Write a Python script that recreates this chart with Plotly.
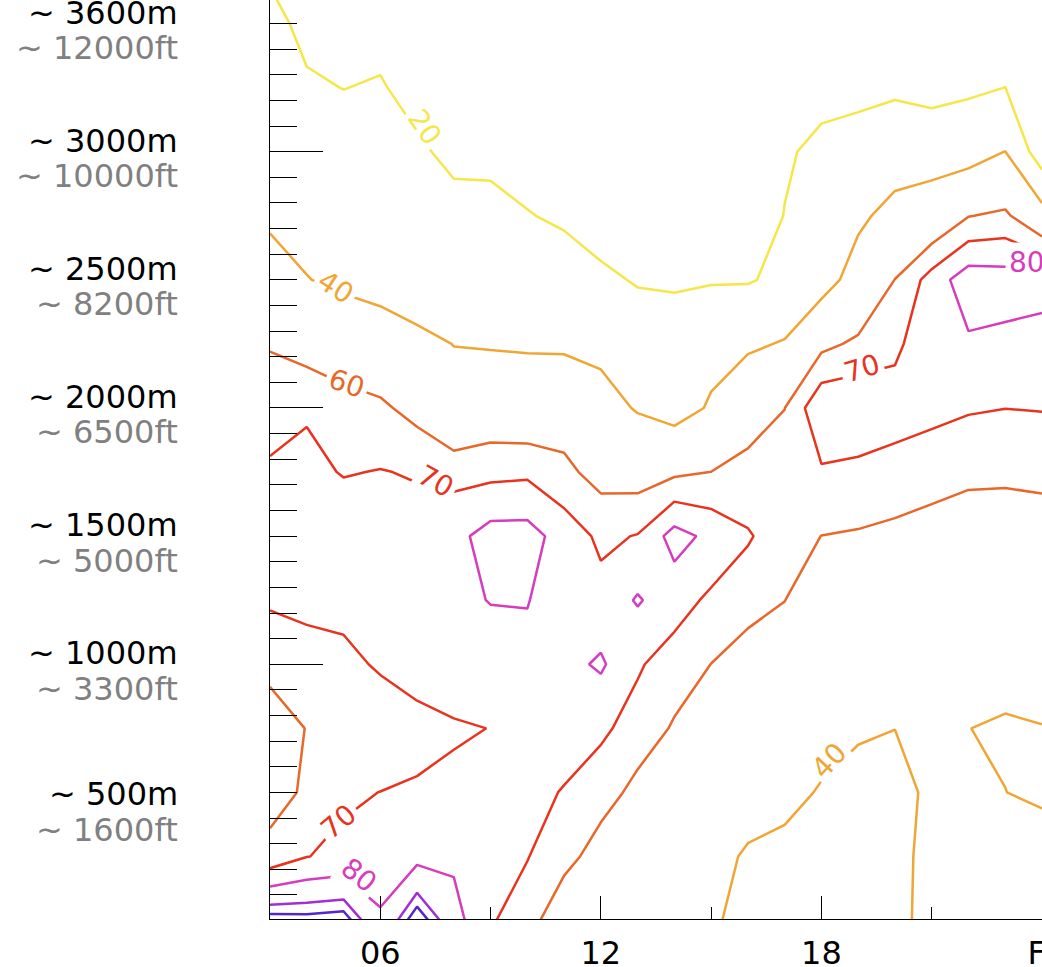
import plotly.graph_objects as go

# ---------------- data ----------------
hours = list(range(3, 25))  # 03 h ... 24 h (next day)
pressure_hpa = [625, 650, 675, 700, 725, 750, 775, 800, 825, 850, 875, 900, 925, 950, 975, 1000]

# relative humidity (%), rows = pressure levels, columns = hours 3..24
rh = [
    [17, 13, 10, 11, 9, 7, 6, 5, 5, 4, 4, 4, 4, 5, 6, 8, 9, 9, 9, 9, 9, 4],
    [24, 16.5, 14, 15.5, 11.5, 9, 8, 6.5, 6, 5, 5, 5, 5, 6, 8, 12, 12.5, 12.5, 11, 12, 14.5, 5],
    [28.5, 21.7, 19.8, 21.1, 15.5, 12, 11, 9, 8, 7, 6, 6, 6, 7, 12, 16.8, 16.6, 17.3, 14, 17.2, 20.1, 6.5],
    [33.5, 28.2, 26.2, 26, 22.1, 16.8, 16.6, 13, 11, 9, 8, 8, 8, 9, 18.7, 22.5, 25.5, 31.3, 32.7, 33.1, 40.2, 9.5],
    [38.2, 34.4, 32.4, 29.5, 27.5, 24.4, 24.1, 20.8, 17.4, 13, 12, 12, 12, 13, 20.3, 27.5, 36.9, 45.5, 49, 59.6, 62.2, 47.5],
    [44.8, 40.5, 36.9, 33, 31.2, 32, 31.6, 29.5, 28.6, 22.9, 18.8, 18.5, 18.7, 18.8, 23.6, 32.8, 47.2, 60.2, 74.2, 85.8, 84.6, 86],
    [58.8, 55, 51.1, 50, 43.7, 39.75, 38.8, 38.3, 37.3, 35.9, 29, 26, 34.9, 37.2, 41.3, 57.1, 62.1, 67.5, 78, 78.55, 77.6, 74.4],
    [68.8, 68.9, 65.3, 62, 56.2, 46.1, 51.5, 50, 54, 46.2, 38.7, 33, 41.75, 54.9, 59.9, 78.3, 78.6, 75, 73, 71, 70.1, 70.5],
    [70.4, 72.6, 69.4, 70.4, 69.2, 66.9, 67.3, 68.1, 62.6, 56, 54.8, 58, 60.1, 63, 64, 68.8, 67.3, 65.9, 63.9, 61.7, 61.5, 62],
    [73, 74, 76.5, 73, 74, 77, 83.9, 84, 75.7, 68, 70.5, 84, 77.3, 71, 64.5, 59.9, 59.1, 57.7, 56.1, 55.6, 55.5, 56],
    [71.4, 71.5, 73.5, 74, 76, 78, 80.3, 80.3, 76, 73.2, 81, 74, 68.2, 64.4, 60.1, 55, 53, 51, 50, 49, 48, 48],
    [62.7, 67.6, 67, 71.4, 75.8, 78.1, 76, 78, 76.8, 81.5, 71, 65.9, 59.9, 54.4, 55, 50, 47, 45, 46, 44, 42, 43],
    [55, 60.3, 65, 63, 65.6, 68.5, 70.2, 76, 76.3, 71.5, 66.8, 58.7, 55, 50, 50, 45, 42, 40.1, 43, 40.05, 39.4, 39.8],
    [55.4, 61.7, 68.7, 70.1, 71.5, 73, 74, 74, 69.2, 65.7, 56.2, 52, 49, 46.9, 44, 38.9, 34.2, 35, 42.9, 43, 40.05, 39],
    [63.6, 69.8, 71.9, 75.4, 77, 78.1, 76, 70.3, 65, 53.5, 50, 47, 45, 38.2, 36.1, 35, 31, 33, 47, 46, 44, 43],
    [98.6, 97.8, 98.9, 81.2, 100, 84, 70.7, 66.3, 48.3, 47, 45, 43, 42.5, 34.2, 33, 33, 30, 32, 49.4, 48, 46, 45],
]

levels = [20, 40, 60, 70, 80, 90, 95]
level_colors = ["#f5e64a", "#f0a634", "#e8682a", "#e8341e", "#d63cbe", "#a22ed6", "#5626cc"]
level_color = dict(zip(levels, level_colors))

# contour labels as placed on the chart: level, hour, pressure (hPa), text angle
contour_label_level = [20, 40, 60, 70, 70, 70, 80, 80, 40]
contour_label_hour = [7.22, 4.80, 5.09, 7.52, 19.1, 4.88, 5.43, 23.6, 18.21]
contour_label_hpa = [690.4, 752.8, 790.3, 828.5, 784.4, 961.5, 982.4, 743.4, 937.4]
contour_label_angle = [55, 33, 19, 29, -17, -40, 38, 0, -47]

label_levels_hpa = [650, 700, 750, 800, 850, 900, 955]
label_m = ["~ 3600m", "~ 3000m", "~ 2500m", "~ 2000m", "~ 1500m", "~ 1000m", "~ 500m"]
label_ft = ["~ 12000ft", "~ 10000ft", "~ 8200ft", "~ 6500ft", "~ 5000ft", "~ 3300ft", "~ 1600ft"]

x_tickvals = [6, 12, 18, 24]
x_ticktext = ["06", "12", "18", "Fr"]
x_minor_vals = [9, 15, 21]

FONT = "DejaVu Sans"

# ---------------- figure ----------------
fig = go.Figure()
for lvl, col in zip(levels, level_colors):
    fig.add_trace(go.Contour(
        x=hours, y=pressure_hpa, z=rh,
        autocontour=False,
        contours=dict(start=lvl, end=lvl, size=1, coloring="none", showlabels=False),
        line=dict(color=col, width=2.5, smoothing=0),
        showscale=False, hoverinfo="skip",
    ))

annotations = []
for lvl, h, p, ang in zip(contour_label_level, contour_label_hour, contour_label_hpa, contour_label_angle):
    annotations.append(dict(xref="x", yref="y", x=h, y=p, xanchor="center", yanchor="middle",
                            showarrow=False, text=str(lvl), textangle=ang,
                            bgcolor="white", borderpad=3,
                            font=dict(family=FONT, size=28, color=level_color[lvl])))

for p, tm, tf in zip(label_levels_hpa, label_m, label_ft):
    annotations.append(dict(xref="paper", yref="y", x=0, y=p, xanchor="right", yanchor="middle",
                            xshift=-90, yshift=11, showarrow=False, text=tm,
                            font=dict(family=FONT, size=32, color="black")))
    annotations.append(dict(xref="paper", yref="y", x=0, y=p, xanchor="right", yanchor="middle",
                            xshift=-90, yshift=-24.5, showarrow=False, text=tf,
                            font=dict(family=FONT, size=32, color="#808080")))

fig.update_layout(
    width=1042, height=967,
    margin=dict(l=270, r=0, t=0, b=48, autoexpand=False),
    paper_bgcolor="white", plot_bgcolor="white",
    showlegend=False,
    font=dict(family=FONT, size=32, color="black"),
    annotations=annotations,
    xaxis=dict(range=[3, 24], showgrid=False, zeroline=False, automargin=False,
               showline=True, linecolor="black", linewidth=1,
               ticks="inside", ticklen=23, tickwidth=1, tickcolor="black",
               tickmode="array", tickvals=x_tickvals, ticktext=x_ticktext,
               tickfont=dict(family=FONT, size=32, color="black"),
               ticklabeloverflow="allow", ticklabelstandoff=6,
               minor=dict(tickmode="array", tickvals=x_minor_vals, ticks="inside",
                          ticklen=12, tickwidth=1, tickcolor="black")),
    yaxis=dict(range=[999.4, 640.8], showgrid=False, zeroline=False, automargin=False,
               showline=True, linecolor="black", linewidth=1,
               ticks="inside", tickmode="linear", tick0=0, dtick=100,
               ticklen=53, tickwidth=1, tickcolor="black", showticklabels=False,
               minor=dict(tick0=0, dtick=10, ticks="inside", ticklen=27,
                          tickwidth=1, tickcolor="black")),
)

fig.write_html("out.html")
